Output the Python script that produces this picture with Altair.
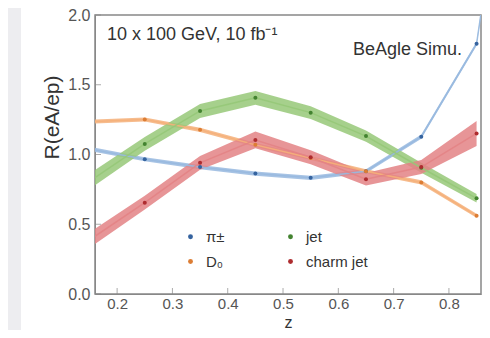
import altair as alt
import pandas as pd

# ---- data ----
z_vals = [0.15, 0.25, 0.35, 0.45, 0.55, 0.65, 0.75, 0.85, 0.95]

series_names = ["π±", "D₀", "jet", "charm jet"]
point_colors = ["#35639f", "#dc7d34", "#438330", "#ae2c2f"]
band_colors = ["#98b9df", "#f5b07a", "#96c878", "#e38385"]

pion_vals = [1.04, 0.966, 0.91, 0.863, 0.833, 0.88, 1.128, 1.794, 4.5]
pion_err = [0.015, 0.015, 0.015, 0.015, 0.015, 0.015, 0.015, 0.015, 0.015]

d0_vals = [1.235, 1.251, 1.177, 1.069, 0.975, 0.88, 0.80, 0.561, None]
d0_err = [0.015, 0.015, 0.015, 0.015, 0.015, 0.015, 0.015, 0.015, None]

jet_vals = [0.808, 1.076, 1.312, 1.406, 1.30, 1.132, 0.905, 0.686, None]
jet_err = [0.055, 0.05, 0.05, 0.05, 0.045, 0.04, 0.035, 0.03, None]

charm_vals = [0.387, 0.655, 0.94, 1.104, 0.98, 0.823, 0.91, 1.151, None]
charm_err = [0.055, 0.05, 0.05, 0.06, 0.05, 0.045, 0.05, 0.09, None]

x_ticks = [0.2, 0.3, 0.4, 0.5, 0.6, 0.7, 0.8]
y_ticks = [0.0, 0.5, 1.0, 1.5, 2.0]

energy_label = "10 x 100 GeV, 10 fb⁻¹"
sim_label = "BeAgle Simu."

# ---- build long table ----
rows = []
for name, vals, errs in [
    ("π±", pion_vals, pion_err),
    ("D₀", d0_vals, d0_err),
    ("jet", jet_vals, jet_err),
    ("charm jet", charm_vals, charm_err),
]:
    for z, v, e in zip(z_vals, vals, errs):
        if v is None:
            continue
        rows.append({"series": name, "z": z, "R": v, "lo": v - e, "hi": v + e,
                     "visible": 0.16 <= z <= 0.86})
df = pd.DataFrame(rows)

FONT = "Liberation Sans"
W, H = 386, 279
PT, PB = 7, 36
xscale = alt.Scale(domain=[0.16, 0.858], nice=False, zero=False)
yscale = alt.Scale(domain=[0, 2.0], nice=False)
band_color = alt.Color("series:N",
                       scale=alt.Scale(domain=series_names, range=band_colors),
                       legend=None)
point_color = alt.Color("series:N",
                        scale=alt.Scale(domain=series_names, range=point_colors),
                        sort=series_names,
                        legend=alt.Legend(title=None, orient="none", columns=2,
                                          legendX=88, legendY=214,
                                          columnPadding=58, rowPadding=9,
                                          symbolType="circle", symbolSize=24,
                                          symbolStrokeWidth=0, labelFontSize=15,
                                          labelColor="#333", labelFont=FONT,
                                          labelOffset=8, padding=0))

base = alt.Chart(df)

xenc = alt.X("z:Q", scale=xscale,
             axis=alt.Axis(title="z", values=x_ticks, format=".1f", ticks=False,
                           grid=False, labelFontSize=15, labelColor="#555",
                           labelPadding=2, titleFontSize=16, titleColor="#333",
                           titleFontWeight="normal", titleY=PB,
                           titleBaseline="bottom",
                           domainColor="#888", labelFont=FONT, titleFont=FONT))
yenc = alt.Y("R:Q", scale=yscale,
             axis=alt.Axis(title="R(eA/ep)", values=y_ticks, format=".1f", ticks=False,
                           grid=False, labelFontSize=16, labelColor="#555",
                           labelPadding=5, titleFontSize=21, titleColor="#333",
                           titleFontWeight="normal", titleX=-43, titleY=102,
                           titleAngle=-90, titleAlign="center",
                           titleBaseline="middle", domainColor="#888",
                           labelFont=FONT, titleFont=FONT))

# light grey page strip on the left of the white figure panel
strip = alt.Chart(pd.DataFrame({"k": [0]})).mark_rect(color="#ededf0", clip=False).encode(
    x=alt.value(-87), x2=alt.value(-74), y=alt.value(-PT), y2=alt.value(H + PB))

band = base.mark_area(clip=True, opacity=0.85).encode(
    x=xenc, y=alt.Y("lo:Q", scale=yscale), y2="hi:Q", color=band_color,
    detail="series:N")
line = base.mark_line(clip=True, strokeWidth=1.5, opacity=0.9).encode(
    x=xenc, y=yenc, color=band_color, detail="series:N")
pts = base.transform_filter("datum.visible").mark_circle(size=16, opacity=1, clip=True).encode(
    x=xenc, y=yenc, color=point_color)

xt = alt.Chart(pd.DataFrame({"t": x_ticks})).mark_tick(
    color="#888", size=6, thickness=1, orient="vertical").encode(
    x=alt.X("t:Q", scale=xscale), y=alt.value(H - 3))
yt = alt.Chart(pd.DataFrame({"t": y_ticks})).mark_tick(
    color="#888", size=6, thickness=1, orient="horizontal").encode(
    y=alt.Y("t:Q", scale=yscale), x=alt.value(3))

txt1 = alt.Chart(pd.DataFrame({"label": [energy_label]})).mark_text(
    align="left", baseline="middle", fontSize=18, color="#333",
    font=FONT).encode(text="label:N", x=alt.value(12), y=alt.value(20))
txt2 = alt.Chart(pd.DataFrame({"label": [sim_label]})).mark_text(
    align="right", baseline="middle", fontSize=18, color="#333",
    font=FONT).encode(text="label:N", x=alt.value(367), y=alt.value(35))

chart = alt.layer(strip, band, line, pts, xt, yt, txt1, txt2).resolve_scale(
    color="independent"
).properties(
    width=W, height=H,
    background="white",
    autosize=alt.AutoSizeParams(type="none"),
    padding={"left": 87, "top": PT, "right": 1, "bottom": PB},
).configure_view(stroke="#888", strokeWidth=1.5)

chart.save("out.html", embed_options={"renderer": "svg", "actions": False})
